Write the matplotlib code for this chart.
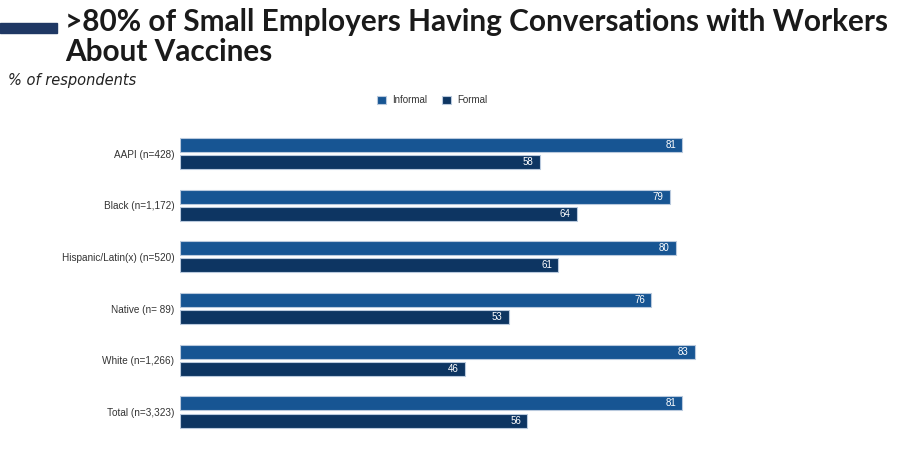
import numpy as np
import matplotlib.pyplot as plt
from matplotlib.patches import Rectangle

# data
categories = ["AAPI (n=428)", "Black (n=1,172)", "Hispanic/Latin(x) (n=520)",
              "Native (n= 89)", "White (n=1,266)", "Total (n=3,323)"]
informal = [81, 79, 80, 76, 83, 81]
formal = [58, 64, 61, 53, 46, 56]
series_names = ["Informal", "Formal"]
title_lines = [">80% of Small Employers Having Conversations with Workers", "About Vaccines"]

c_inf = "#175593"
c_for = "#0d3562"
edge = "#b9c9dd"

fig = plt.figure(figsize=(9.24, 4.73), dpi=100)
W, H = 924, 473

# title block
fig.patches.append(Rectangle((0, 1 - 33.5 / H), 57 / W, 10.5 / H,
                             transform=fig.transFigure, color="#1f3864"))
t1 = fig.text(65 / W, 1 - 30.5 / H, title_lines[0], ha="left", va="baseline",
              fontsize=20, fontweight="bold", color="#1a1a1a", family="Lato")
t2 = fig.text(65 / W, 1 - 61 / H, title_lines[1], ha="left", va="baseline",
              fontsize=20, fontweight="bold", color="#1a1a1a", family="Lato")
# shrink title so the first line ends where the reference does
r = fig.canvas.get_renderer()
w1 = t1.get_window_extent(r).width
fs = 20 * 822 / w1
t1.set_fontsize(fs)
t2.set_fontsize(fs)

fig.text(8 / W, 1 - 81 / H, "% of respondents", ha="left", va="center",
         fontsize=10.5, style="italic", color="#222222", family="DejaVu Sans")

ax = fig.add_axes([180 / W, 0.0634, 620 / W, 0.741 - 0.0634])
y = np.arange(len(categories))
h = 0.27
off = 0.165
b1 = ax.barh(y - off, informal, height=h, color=c_inf, edgecolor=edge, linewidth=0.8, label=series_names[0])
b2 = ax.barh(y + off, formal, height=h, color=c_for, edgecolor=edge, linewidth=0.8, label=series_names[1])

for bars, vals in ((b1, informal), (b2, formal)):
    for bar, v in zip(bars, vals):
        ax.text(v - 1.0, bar.get_y() + bar.get_height() / 2, str(v), ha="right", va="center",
                color="white", fontsize=7, family="Liberation Sans")

ax.set_xlim(0, 100)
ax.set_ylim(len(categories) - 0.4, -0.6)
ax.set_yticks(y)
ax.set_yticklabels(categories, fontsize=7.2, color="#333333", family="Liberation Sans")
ax.tick_params(axis="y", length=0, pad=4)
ax.set_xticks([])
for s in ax.spines.values():
    s.set_visible(False)

leg = fig.legend(handles=[b1, b2], labels=series_names, loc="center",
                 bbox_to_anchor=(432 / W, 1 - 100 / H), ncol=2, frameon=False,
                 prop={"family": "Liberation Sans", "size": 7}, handlelength=0.9,
                 handleheight=0.9, columnspacing=1.6, handletextpad=0.6)
for t in leg.get_texts():
    t.set_color("#333333")

fig.savefig("out.png", dpi=100)
